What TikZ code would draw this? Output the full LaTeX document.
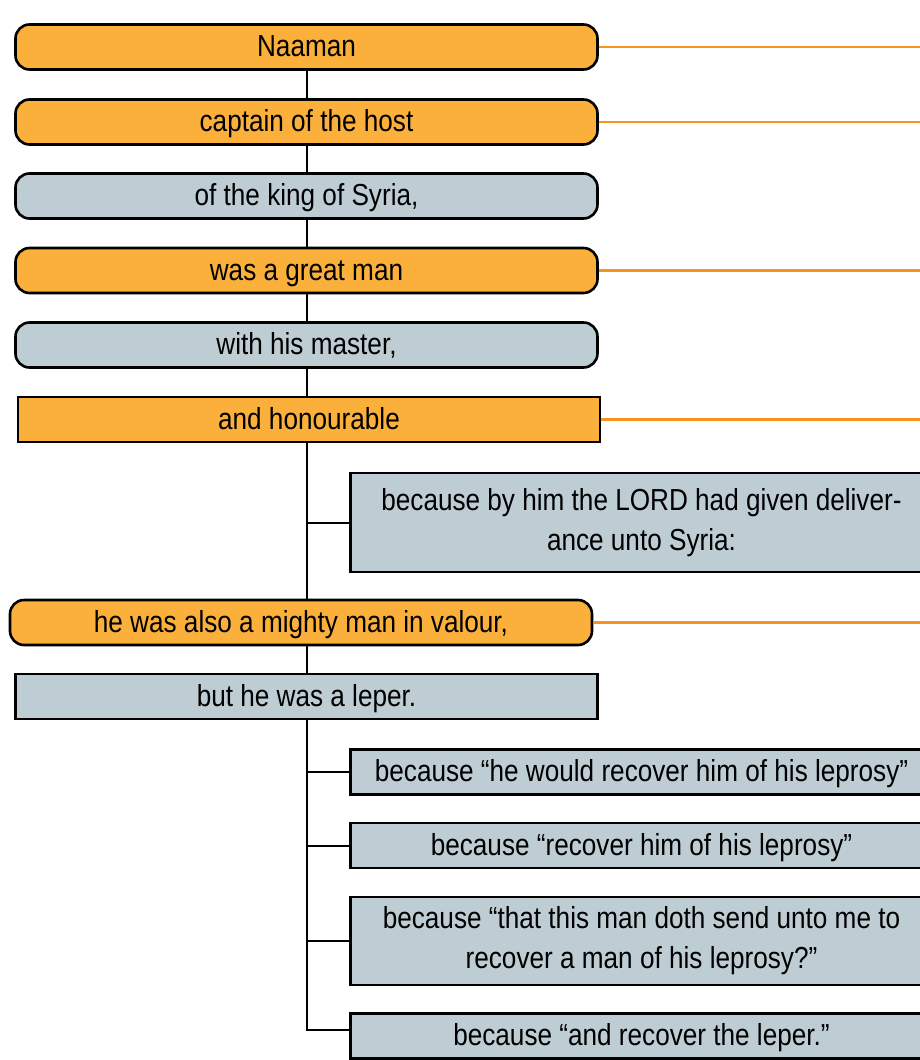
\documentclass[tikz,border=0pt]{standalone}
\usepackage{fontspec}
\setmainfont[FakeStretch=0.86]{Liberation Sans}
\usetikzlibrary{positioning}
\definecolor{boxorange}{RGB}{251,176,59}
\definecolor{linkorange}{RGB}{247,148,30}
\definecolor{boxgrey}{RGB}{190,204,212}

\begin{document}
\begin{tikzpicture}[
  x=0.5pt,y=-0.5pt,
  plainbox/.style={draw,line width=1.3pt,minimum width=291pt,minimum height=22.5pt,
    inner sep=0pt,align=center,font=\fontsize{15.2}{20}\selectfont},
  box/.style={plainbox,text height=12.5pt,text depth=2.8pt},
  keynode/.style={box,fill=boxorange,rounded corners=7pt},
  keyrect/.style={box,fill=boxorange},
  subnode/.style={box,fill=boxgrey,rounded corners=7pt},
  subrect/.style={box,fill=boxgrey},
  tallrect/.style={plainbox,fill=boxgrey},
  spine/.style={line width=1pt},
  link/.style={draw=linkorange,line width=1.4pt}
]
\useasboundingbox (0,0) rectangle (920,1060);
\clip (0,0) rectangle (920,1060);
\coordinate (rim) at (920,0);
\coordinate (sp) at (306.5,0);

% main line
\node[keynode] (N) at (306.5,47) {Naaman};
\node[keynode] (CH) at (306.5,122) {captain of the host};
\node[subnode] (KS) at (306.5,196) {of the king of Syria,};
\node[keynode] (GM) at (306.5,270.5) {was a great man};
\node[subnode] (HM) at (306.5,345) {with his master,};
\node[keyrect] (HO) at (309,419.5) {and honourable};
\node[tallrect,minimum height=49.5pt] (DL) at (641.5,522.5)
  {because by him the LORD had given deliver-\\ance unto Syria:};
\node[keynode] (MV) at (301,622.5) {he was also a mighty man in valour,};
\node[subrect] (LP) at (306.5,696.5) {but he was a leper.};

% reasons for the leper
\node[subrect] (R1) at (641.5,772) {because “he would recover him of his leprosy”};
\node[subrect] (R2) at (641.5,845.5) {because “recover him of his leprosy”};
\node[tallrect,minimum height=44pt] (R3) at (641.5,941)
  {because “that this man doth send unto me to\\recover a man of his leprosy?”};
\node[subrect] (R4) at (641.5,1036) {because “and recover the leper.”};
\coordinate (bend) at (306.5,1030);

\path[spine] (N) edge (CH)
(CH) edge (KS)
(KS) edge (GM)
(GM) edge (HM)
(HM.south) edge (sp |- HO.north)
(sp |- HO.south) edge (sp |- MV.north)
(sp |- MV.south) edge (LP.north)
(DL.west -| sp) edge (DL.west)
(R1.west -| sp) edge (R1.west)
(R2.west -| sp) edge (R2.west)
(R3.west -| sp) edge (R3.west);
\draw[spine] (LP.south) -- (bend) -- (bend -| R4.west);

\path[link] (N.east) edge (N.east -| rim)
(CH.east) edge (CH.east -| rim)
(GM.east) edge (GM.east -| rim)
(HO.east) edge (HO.east -| rim)
(MV.east) edge (MV.east -| rim);
\end{tikzpicture}
\end{document}
